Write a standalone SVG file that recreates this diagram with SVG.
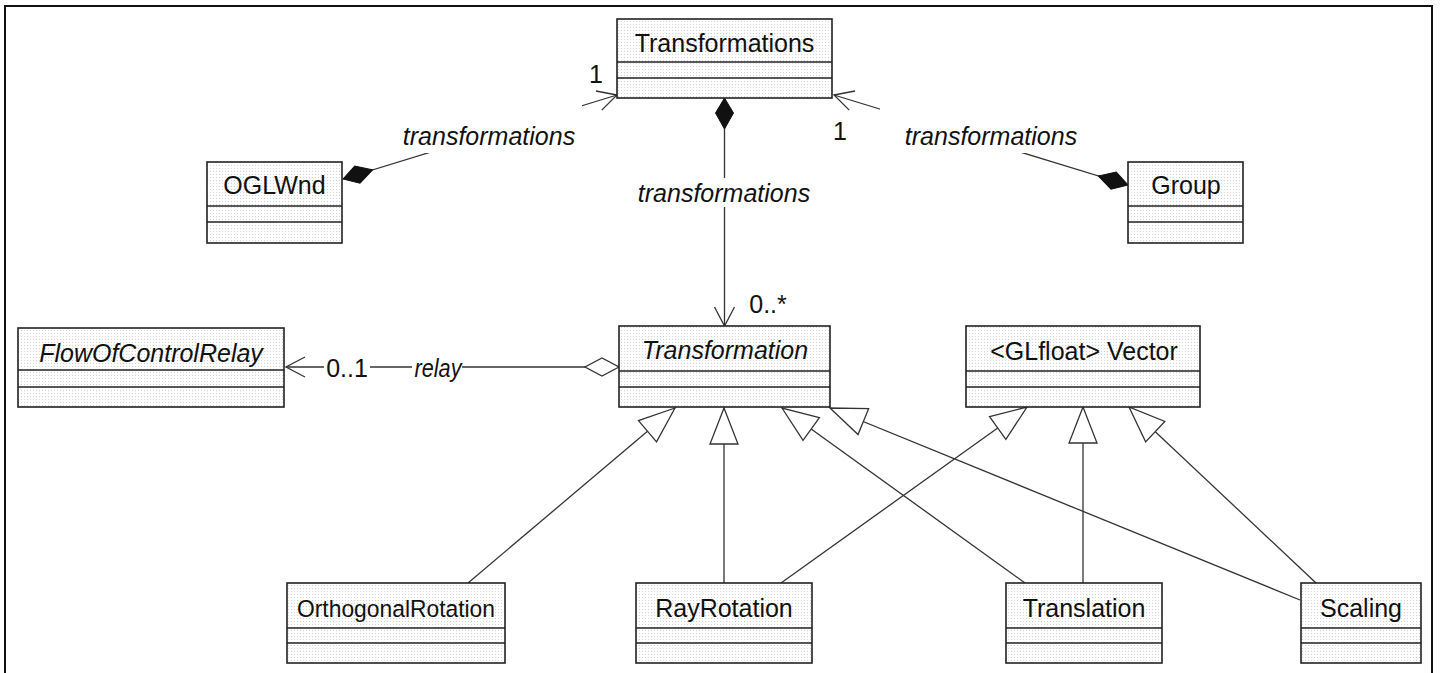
<svg xmlns="http://www.w3.org/2000/svg" width="1440" height="673" viewBox="0 0 1440 673">
<style>
.box{fill:url(#dots);stroke:#222;stroke-width:1.6}
.div{stroke:#222;stroke-width:1.6}
.t{font-family:"Liberation Sans",Arial,sans-serif;font-size:25px;fill:#111;text-anchor:middle}
.i{font-style:italic}
.c{fill:none;stroke:#333;stroke-width:1.3}
.bg{fill:#fff}
</style>
<defs>
<pattern id="dots" width="3" height="3" patternUnits="userSpaceOnUse">
<rect width="3" height="3" fill="#fff"/>
<rect width="1" height="1" fill="#d4d4d4"/>
</pattern>
<marker id="open" markerUnits="userSpaceOnUse" orient="auto" overflow="visible" markerWidth="1" markerHeight="1" refX="0" refY="0">
<path d="M-19,-10 L0,0 L-19,10" fill="none" stroke="#333" stroke-width="1.3"/>
</marker>
<marker id="tri" markerUnits="userSpaceOnUse" orient="auto" overflow="visible" markerWidth="1" markerHeight="1" refX="0" refY="0">
<path d="M0,0 L-36,-14 L-36,14 Z" fill="#fff" stroke="#333" stroke-width="1.3"/>
</marker>
<marker id="comp" markerUnits="userSpaceOnUse" orient="auto" overflow="visible" markerWidth="1" markerHeight="1" refX="0" refY="0">
<path d="M0,0 L15,-9 L31,0 L15,9 Z" fill="#111" stroke="#111" stroke-width="1"/>
</marker>
<marker id="agg" markerUnits="userSpaceOnUse" orient="auto" overflow="visible" markerWidth="1" markerHeight="1" refX="0" refY="0">
<path d="M0,0 L17,-9 L34,0 L17,9 Z" fill="#fff" stroke="#333" stroke-width="1.3"/>
</marker>
</defs>
<rect width="1440" height="673" fill="#fff"/>
<path d="M5,673 V6 H1432 V673" fill="none" stroke="#111" stroke-width="2"/>

<g id="connectors">
<line class="c" x1="343" y1="179" x2="617" y2="95" marker-start="url(#comp)" marker-end="url(#open)"/>
<line class="c" x1="1128" y1="185" x2="834" y2="95" marker-start="url(#comp)" marker-end="url(#open)"/>
<line class="c" x1="724.5" y1="98" x2="724.5" y2="326" marker-start="url(#comp)" marker-end="url(#open)"/>
<line class="c" x1="619" y1="367" x2="286" y2="367" marker-start="url(#agg)" marker-end="url(#open)"/>
<line class="c" x1="468" y1="583" x2="675" y2="408" marker-end="url(#tri)"/>
<line class="c" x1="724" y1="583" x2="724" y2="408" marker-end="url(#tri)"/>
<line class="c" x1="1025" y1="583" x2="782" y2="408" marker-end="url(#tri)"/>
<line class="c" x1="1300" y1="600" x2="830" y2="408" marker-end="url(#tri)"/>
<line class="c" x1="781" y1="583" x2="1027" y2="407" marker-end="url(#tri)"/>
<line class="c" x1="1083" y1="583" x2="1083" y2="407" marker-end="url(#tri)"/>
<line class="c" x1="1316" y1="583" x2="1129" y2="407" marker-end="url(#tri)"/>
</g>

<g id="labels">
<rect class="bg" x="396" y="104" width="186" height="49"/>
<text class="t i" x="489" y="145">transformations</text>
<rect class="bg" x="880" y="106" width="202" height="47"/>
<text class="t i" x="991" y="145">transformations</text>
<rect class="bg" x="634" y="178" width="180" height="29"/>
<text class="t i" x="724" y="202">transformations</text>
<text class="t" x="596" y="83">1</text>
<text class="t" x="840" y="140">1</text>
<text class="t" x="768" y="313">0..*</text>
<rect class="bg" x="324" y="356" width="46" height="25"/>
<text class="t" x="347" y="377">0..1</text>
<rect class="bg" x="412" y="356" width="50" height="27"/>
<text class="t i" x="438" y="377" textLength="47" lengthAdjust="spacingAndGlyphs">relay</text>
</g>

<g id="Transformations">
<rect class="box" x="617" y="19" width="215" height="79"/>
<line class="div" x1="617" y1="62" x2="832" y2="62"/>
<line class="div" x1="617" y1="78" x2="832" y2="78"/>
<text class="t" x="724.5" y="52">Transformations</text>
</g>
<g id="OGLWnd">
<rect class="box" x="207" y="162" width="135" height="81"/>
<line class="div" x1="207" y1="206" x2="342" y2="206"/>
<line class="div" x1="207" y1="222" x2="342" y2="222"/>
<text class="t" x="274.5" y="194">OGLWnd</text>
</g>
<g id="Group">
<rect class="box" x="1128" y="162" width="115" height="81"/>
<line class="div" x1="1128" y1="206" x2="1243" y2="206"/>
<line class="div" x1="1128" y1="222" x2="1243" y2="222"/>
<text class="t" x="1186" y="194">Group</text>
</g>
<g id="FlowOfControlRelay">
<rect class="box" x="18" y="328" width="266" height="79"/>
<line class="div" x1="18" y1="370" x2="284" y2="370"/>
<line class="div" x1="18" y1="387" x2="284" y2="387"/>
<text class="t i" x="151" y="362">FlowOfControlRelay</text>
</g>
<g id="Transformation">
<rect class="box" x="619" y="326" width="211" height="81"/>
<line class="div" x1="619" y1="371" x2="830" y2="371"/>
<line class="div" x1="619" y1="387" x2="830" y2="387"/>
<text class="t i" x="725" y="359">Transformation</text>
</g>
<g id="Vector">
<rect class="box" x="966" y="326" width="234" height="81"/>
<line class="div" x1="966" y1="371" x2="1200" y2="371"/>
<line class="div" x1="966" y1="387" x2="1200" y2="387"/>
<text class="t" x="1084" y="360">&lt;GLfloat&gt; Vector</text>
</g>
<g id="OrthogonalRotation">
<rect class="box" x="287" y="583" width="218" height="80"/>
<line class="div" x1="287" y1="628" x2="505" y2="628"/>
<line class="div" x1="287" y1="643" x2="505" y2="643"/>
<text class="t" x="396" y="617" style="font-size:24.5px" textLength="198" lengthAdjust="spacingAndGlyphs">OrthogonalRotation</text>
</g>
<g id="RayRotation">
<rect class="box" x="636" y="583" width="176" height="80"/>
<line class="div" x1="636" y1="628" x2="812" y2="628"/>
<line class="div" x1="636" y1="643" x2="812" y2="643"/>
<text class="t" x="724" y="617">RayRotation</text>
</g>
<g id="Translation">
<rect class="box" x="1006" y="583" width="156" height="80"/>
<line class="div" x1="1006" y1="628" x2="1162" y2="628"/>
<line class="div" x1="1006" y1="643" x2="1162" y2="643"/>
<text class="t" x="1084" y="617">Translation</text>
</g>
<g id="Scaling">
<rect class="box" x="1301" y="583" width="120" height="80"/>
<line class="div" x1="1301" y1="628" x2="1421" y2="628"/>
<line class="div" x1="1301" y1="643" x2="1421" y2="643"/>
<text class="t" x="1361" y="617">Scaling</text>
</g>
</svg>
